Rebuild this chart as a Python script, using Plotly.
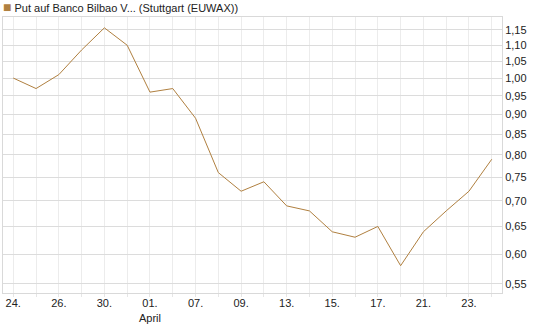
import math
import plotly.graph_objects as go

dates = ["24.03.", "25.03.", "26.03.", "27.03.", "30.03.", "31.03.",
         "01.04.", "02.04.", "07.04.", "08.04.", "09.04.", "10.04.",
         "13.04.", "14.04.", "15.04.", "16.04.", "17.04.", "20.04.",
         "21.04.", "22.04.", "23.04.", "24.04."]
prices = [1.00, 0.97, 1.01, 1.085, 1.157, 1.10, 0.96, 0.97, 0.89, 0.76, 0.72, 0.74,
          0.69, 0.68, 0.64, 0.63, 0.65, 0.58, 0.64, 0.68, 0.72, 0.79]
tick_labels = ["24.", "", "26.", "", "30.", "", "01.<br>April", "", "07.", "", "09.", "",
               "13.", "", "15.", "", "17.", "", "21.", "", "23.", ""]
y_ticks = [0.55, 0.60, 0.65, 0.70, 0.75, 0.80, 0.85, 0.90, 0.95, 1.00, 1.05, 1.10, 1.15]
series_name = "Put auf Banco Bilbao V... (Stuttgart (EUWAX))"

line_color = "#B08040"
idx = list(range(len(dates)))

fig = go.Figure()
fig.add_trace(go.Scatter(x=idx, y=prices, mode="lines", text=dates, name=series_name,
                         line=dict(color=line_color, width=1),
                         showlegend=False, hovertemplate="%{text}: %{y:.2f}<extra></extra>"))

fig.update_layout(
    width=545, height=327,
    margin=dict(l=3, r=43, t=17, b=34, autoexpand=False),
    paper_bgcolor="white", plot_bgcolor="white",
    separators=",.",
    font=dict(family="Liberation Sans, Arial, sans-serif", size=11, color="#222222"),
    title=dict(text=f'<span style="color:{line_color};font-size:14px">■</span> {series_name}',
               x=0, xref="container", xanchor="left", y=1, yref="container", yanchor="top",
               pad=dict(l=3, t=4), font=dict(size=11, color="#222222")),
    showlegend=False,
    xaxis=dict(range=[-0.45, 21.45], tickmode="array", tickvals=idx, ticktext=tick_labels,
               showgrid=True, gridcolor="#ececec", gridwidth=1,
               showline=True, linecolor="#d9d9d9", mirror=True,
               ticks="outside", ticklen=3, tickcolor="#e6e6e6",
               ticklabelstandoff=-3,
               zeroline=False, tickfont=dict(size=11)),
    yaxis=dict(type="log", side="right",
               range=[math.log10(0.5358), math.log10(1.194)],
               tickmode="array", tickvals=y_ticks,
               ticktext=[f"{v:.2f}".replace(".", ",") for v in y_ticks],
               showgrid=True, gridcolor="#dcdcdc", gridwidth=1,
               showline=True, linecolor="#d9d9d9", mirror=True,
               ticks="", zeroline=False, tickfont=dict(size=11)),
)
fig.write_html("out.html")
